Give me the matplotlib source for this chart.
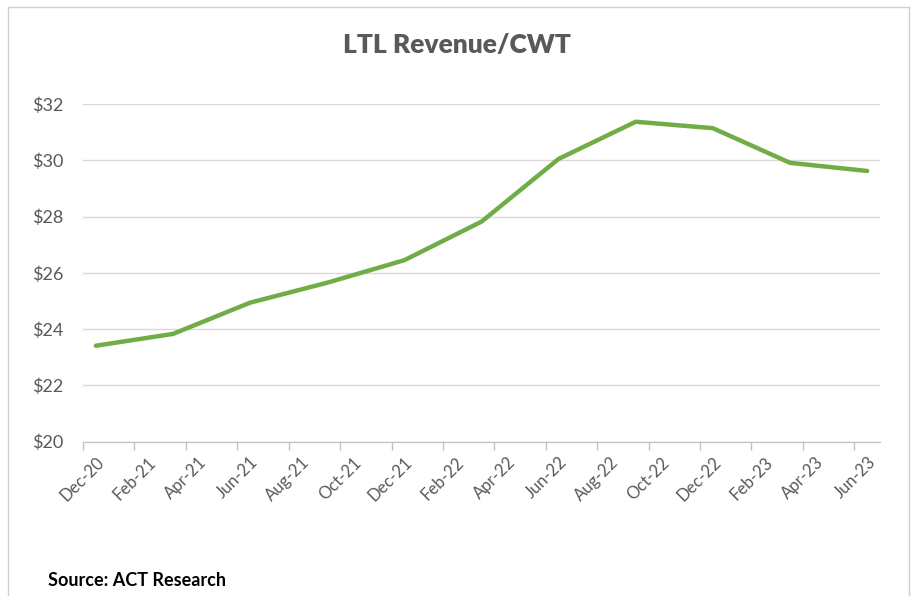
import matplotlib.pyplot as plt
from matplotlib.lines import Line2D

# all months on the category axis
months = ['Dec-20', 'Jan-21', 'Feb-21', 'Mar-21', 'Apr-21', 'May-21', 'Jun-21',
          'Jul-21', 'Aug-21', 'Sep-21', 'Oct-21', 'Nov-21', 'Dec-21',
          'Jan-22', 'Feb-22', 'Mar-22', 'Apr-22', 'May-22', 'Jun-22',
          'Jul-22', 'Aug-22', 'Sep-22', 'Oct-22', 'Nov-22', 'Dec-22',
          'Jan-23', 'Feb-23', 'Mar-23', 'Apr-23', 'May-23', 'Jun-23']

# quarterly observations
quarters = ['Dec-20', 'Mar-21', 'Jun-21', 'Sep-21', 'Dec-21', 'Mar-22',
            'Jun-22', 'Sep-22', 'Dec-22', 'Mar-23', 'Jun-23']
revenue_cwt = [23.41, 23.83, 24.94, 25.65, 26.45, 27.82,
               30.05, 31.37, 31.14, 29.91, 29.62]

x = [months.index(q) for q in quarters]

plt.rcParams['font.family'] = ['Lato', 'DejaVu Sans']
grey = '#595959'

fig = plt.figure(figsize=(9.13, 5.96), dpi=100)
ax = fig.add_axes([0.0909, 0.2589, 0.873, 0.5666])

ax.plot(x, revenue_cwt, color='#70AD47', lw=3.2, solid_capstyle='round',
        solid_joinstyle='round')

ax.set_ylim(20, 32)
ax.set_yticks(range(20, 33, 2))
ax.set_yticklabels(['$%d' % v for v in range(20, 33, 2)])
ax.set_xlim(-0.5, len(months) - 0.5)

label_pos = list(range(0, len(months), 2))
ax.set_xticks(label_pos)
ax.set_xticklabels([months[i] for i in label_pos], rotation=45,
                   ha='right', va='top', rotation_mode='anchor')
ax.set_xticks([i - 0.5 for i in range(0, len(months), 2)], minor=True)
ax.tick_params(axis='x', which='major', length=0, pad=9, labelsize=12,
               labelcolor=grey)
ax.tick_params(axis='x', which='minor', length=6, color='#BFBFBF', width=1)
ax.tick_params(axis='y', length=0, pad=14, labelsize=13, labelcolor=grey)

ax.grid(axis='y', color='#D9D9D9', lw=1)
ax.set_axisbelow(True)
for side in ['top', 'right', 'left']:
    ax.spines[side].set_visible(False)
ax.spines['bottom'].set_color('#BFBFBF')

fig.text(0.5, 1 - 45 / 596, 'LTL Revenue/CWT', ha='center', va='center',
         fontsize=19, fontweight='heavy', color=grey)
fig.text(48 / 913, 1 - 580 / 596, 'Source: ACT Research', ha='left',
         va='center', fontsize=13, fontweight='bold', color='black')

# chart frame
fx0, fx1, fy1 = 8 / 913, 909 / 913, 1 - 7 / 596
for xs, ys in [([fx0, fx0], [0, fy1]), ([fx0, fx1], [fy1, fy1]),
               ([fx1, fx1], [fy1, 0])]:
    fig.add_artist(Line2D(xs, ys, color='#D0D0D0', lw=1))

fig.savefig('out.png', dpi=100)
